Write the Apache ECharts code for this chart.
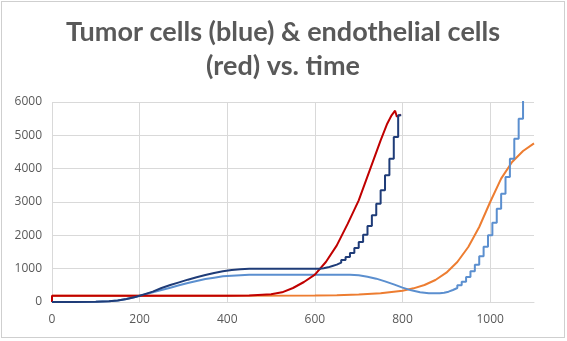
<!DOCTYPE html>
<html>
<head>
<meta charset="utf-8">
<script src="https://cdn.jsdelivr.net/npm/echarts@6/dist/echarts.min.js"></script>
<style>
  html, body { margin: 0; padding: 0; background: #fff; }
  .report {
    position: absolute;
    left: 1px;
    top: 1px;
    width: 562px;
    height: 335px;
    border: 1px solid #cfcfcf;
  }
</style>
</head>
<body>
<div class="report" id="chart"></div>
<script>
  // tumor cells, run 1 (dark blue): smooth part, then the staircase part
  const tNavy = [0, 50, 100, 130, 150, 170, 190, 210, 230, 250, 270, 290, 310, 330, 350, 370, 390, 410, 430, 450, 500, 550, 600];
  const navy = [0, 0, 5, 20, 45, 90, 150, 230, 310, 420, 510, 590, 670, 740, 810, 870, 920, 960, 985, 1000, 1000, 1000, 1000];
  const tNavySteps = [610, 620, 630, 640, 650, 660, 670, 680, 690, 700, 710, 720, 730, 740, 750, 760, 770, 780, 790, 797];
  const navySteps = [1010, 1040, 1080, 1120, 1180, 1260, 1350, 1470, 1620, 1800, 2020, 2280, 2600, 2950, 3350, 3800, 4300, 4950, 5600, 5600];

  // endothelial cells, run 1 (red)
  const tRed = [0, 0, 100, 200, 300, 400, 450, 500, 525, 550, 575, 600, 625, 650, 675, 700, 725, 750, 765, 775, 783, 787, 796];
  const red = [0, 190, 190, 190, 190, 190, 195, 230, 290, 420, 600, 820, 1200, 1700, 2350, 3050, 3950, 4850, 5350, 5600, 5740, 5560, 5620];

  // tumor cells, run 2 (light blue): smooth part, then the staircase part
  const tBlue = [0, 50, 100, 130, 150, 170, 190, 210, 230, 250, 270, 290, 310, 330, 350, 370, 390, 410, 430, 450, 500, 600, 680,
    700, 720, 740, 760, 780, 800, 820, 840, 860, 875];
  const blue = [0, 0, 5, 20, 45, 90, 150, 220, 290, 360, 430, 500, 570, 630, 690, 730, 770, 790, 805, 815, 820, 820, 820,
    800, 760, 700, 620, 530, 430, 350, 295, 265, 260];
  const tBlueSteps = [885, 895, 905, 915, 925, 935, 945, 955, 965, 975, 985, 995, 1005, 1015, 1025, 1035, 1045, 1055, 1065, 1075, 1085];
  const blueSteps = [275, 310, 360, 420, 500, 610, 750, 920, 1120, 1370, 1660, 2000, 2380, 2800, 3250, 3750, 4300, 4900, 5500, 6100, 6700];

  // endothelial cells, run 2 (orange)
  const tOrange = [0, 200, 400, 600, 650, 700, 750, 800, 825, 850, 875, 900, 925, 950, 975, 1000, 1025, 1050, 1075, 1100];
  const orange = [190, 190, 190, 195, 205, 225, 265, 340, 410, 510, 660, 880, 1200, 1650, 2250, 3000, 3700, 4200, 4530, 4760];

  const xTicks = [0, 1100, 200];   // min, max, interval
  const yTicks = [0, 6000, 1000];

  const pairs = (t, v) => t.map((x, i) => [x, v[i]]);
  // staircase: hold previous value, then jump at each time
  const stairs = (t, v, prev) => {
    const out = [];
    t.forEach((x, i) => {
      out.push([x, i === 0 ? prev : v[i - 1]]);
      out.push([x, v[i]]);
    });
    return out;
  };

  const myChart = echarts.init(document.getElementById('chart'));

  const gridLine = { show: true, lineStyle: { color: '#d9d9d9', width: 1 } };
  const labelStyle = { color: '#595959', fontSize: 12, fontFamily: 'Open Sans', formatter: (v) => String(v) };

  myChart.setOption({
    animation: false,
    title: {
      text: 'Tumor cells (blue) & endothelial cells\n(red) vs. time',
      left: 'center',
      top: 8,
      textStyle: {
        color: '#595959',
        fontSize: 27,
        fontWeight: 'bold',
        fontFamily: 'Lato',
        lineHeight: 34
      }
    },
    grid: { left: 50, right: 30, top: 100, bottom: 35 },
    xAxis: {
      type: 'value',
      min: xTicks[0],
      max: xTicks[1],
      interval: xTicks[2],
      axisLine: { show: true, lineStyle: { color: '#d9d9d9' } },
      axisTick: { show: false },
      axisLabel: Object.assign({ margin: 12, showMaxLabel: false }, labelStyle),
      splitLine: Object.assign({ showMaxLine: false }, gridLine)
    },
    yAxis: {
      type: 'value',
      min: yTicks[0],
      max: yTicks[1],
      interval: yTicks[2],
      axisLine: { show: false },
      axisTick: { show: false },
      axisLabel: Object.assign({ margin: 10 }, labelStyle),
      splitLine: gridLine
    },
    series: [
      {
        name: 'endothelial 2', type: 'line', showSymbol: false, clip: true,
        lineStyle: { color: '#ed7d31', width: 2 },
        data: pairs(tOrange, orange), z: 1
      },
      {
        name: 'tumor 2', type: 'line', showSymbol: false, clip: true,
        lineStyle: { color: '#5b8fcf', width: 2 },
        data: pairs(tBlue, blue).concat(stairs(tBlueSteps, blueSteps, blue[blue.length - 1])), z: 2
      },
      {
        name: 'endothelial 1', type: 'line', showSymbol: false, clip: true,
        lineStyle: { color: '#c00000', width: 2 },
        data: pairs(tRed, red), z: 3
      },
      {
        name: 'tumor 1', type: 'line', showSymbol: false, clip: true,
        lineStyle: { color: '#1f3c78', width: 2 },
        data: pairs(tNavy, navy).concat(stairs(tNavySteps, navySteps, navy[navy.length - 1])), z: 4
      }
    ]
  });

  window.addEventListener('resize', () => {
    myChart && myChart.resize();
  });
</script>
</body>
</html>
